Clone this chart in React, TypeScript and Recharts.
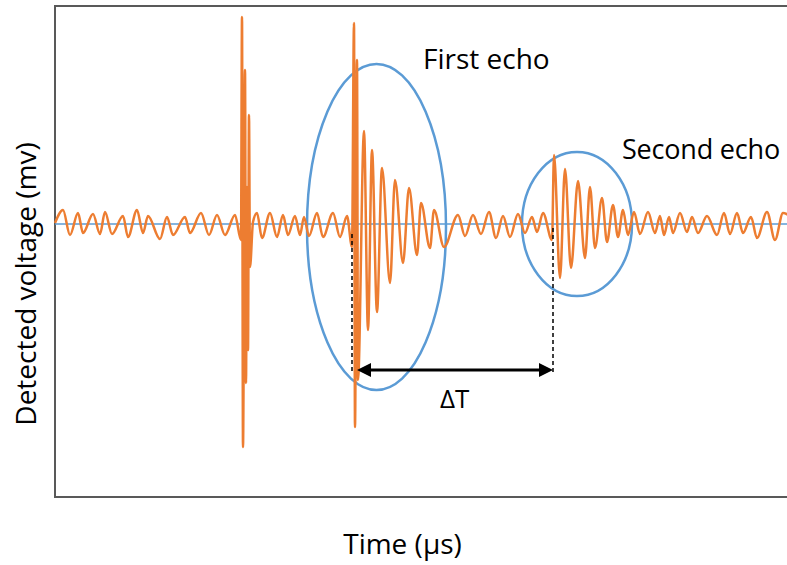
import { LineChart, Line, XAxis, YAxis, ReferenceLine, ReferenceArea } from 'recharts';

// Time (µs) and detected voltage (mV), read as peaks/troughs off the trace
const timeUs = [
  // background ringing before the pulse
  0.0, 0.8, 1.5, 2.3, 2.8, 3.8, 4.5, 5.0, 5.7, 6.8, 7.3, 8.2, 8.8, 9.3, 10.5, 11.2, 11.8, 13.0,
  13.5, 14.6, 15.4, 16.2, 17.0, 18.0, 18.6,
  // excitation pulse
  18.7, 18.8, 19.0, 19.1, 19.2, 19.3, 19.4, 19.5, 19.8,
  // ringing
  20.2, 20.7, 21.5, 22.2, 22.8, 23.3, 24.0, 24.5, 24.9, 25.4, 26.2, 26.8, 27.8, 28.5, 29.2, 29.7,
  // first echo
  29.9, 30.0, 30.2, 30.3, 30.9, 31.3, 31.7, 32.2, 32.7, 33.5, 34.0, 34.8, 35.4, 36.2, 36.6, 37.5,
  37.9, 38.9,
  // ringing
  40.3, 41.0, 41.8, 42.6, 43.4, 44.1, 44.8, 45.5, 46.3, 47.0, 47.7, 48.2, 48.8, 49.7,
  // second echo
  49.9, 50.5, 51.0, 51.6, 52.3, 53.0, 53.5, 54.0, 54.7, 55.2, 55.8, 56.3, 56.8, 57.3,
  // ringing
  57.9, 58.5, 59.3, 60.0, 60.5, 60.9, 61.4, 61.8, 62.5, 63.2, 63.7, 64.3, 65.2, 66.2, 66.9, 67.5,
  68.2, 68.8, 69.6, 70.2, 71.2, 72.0, 72.8, 73.5,
];

const voltageMv = [
  0.1, 1.4, -1.1, 1.1, -0.9, 1.0, -1.0, 1.2, -1.0, 0.8, -1.3, 1.4, -0.9, 0.8, -1.5, 0.7, -1.1, 0.7,
  -0.9, 1.1, -1.1, 0.9, -1.1, 0.9, -1.6,
  20.7, -22.3, 15.4, -15.9, 3.7, -12.6, 10.9, -4.3, 0.2,
  1.1, -1.4, 1.1, -1.3, 0.9, -1.1, 0.8, -1.1, 0.7, -1.2, 1.1, -1.3, 1.1, -1.3, 0.8, -2.3,
  20.1, -20.3, 16.4, -15.6, 9.3, -10.6, 7.4, -8.8, 5.6, -5.9, 4.4, -3.9, 3.6, -3.1, 2.1, -2.4,
  1.4, -2.3,
  0.9, -1.2, 0.9, -1.0, 1.2, -1.4, 0.8, -1.3, 1.0, -0.9, 0.7, -0.8, 1.1, -1.6,
  6.9, -5.4, 5.5, -4.4, 4.3, -3.4, 3.7, -2.4, 2.6, -1.8, 1.9, -1.3, 1.4, -1.1,
  1.2, -1.0, 1.2, -0.9, 0.8, -1.1, 0.7, -0.9, 1.1, -0.8, 0.7, -0.9, 0.8, -1.1, 1.1, -1.0,
  1.1, -0.9, 0.7, -1.4, 1.2, -1.6, 1.1, 0.8,
];

// echo circles: [t1, t2, v1, v2]
const firstEchoBox = [25.2, 39.1, -16.6, 16.0];
const secondEchoBox = [46.7, 57.7, -7.2, 7.2];
// dashed markers at the echo onsets: [t, vTop, vBottom]
const onsetMarkers = [
  [29.7, -1.0, -14.8],
  [49.8, -0.4, -14.8],
];
const deltaT = { from: 30.2, to: 49.8, v: -14.6 };

const xDomain: [number, number] = [0, 80];
const yDomain: [number, number] = [-27.3, 21.8];

const signal = timeUs.map((t, i) => ({ t, v: voltageMv[i] }));

const EllipseShape = (props: any) => {
  const { x, y, width, height } = props;
  return (
    <ellipse
      cx={x + width / 2}
      cy={y + height / 2}
      rx={Math.abs(width) / 2}
      ry={Math.abs(height) / 2}
      fill="none"
      stroke="#5B9BD5"
      strokeWidth={2.5}
    />
  );
};

const ArrowShape = (props: any) => {
  const { x1, y1, x2, y2 } = props;
  const head = 14;
  const half = 7;
  return (
    <g>
      <line x1={x1 + head - 2} y1={y1} x2={x2 - head + 2} y2={y2} stroke="#000" strokeWidth={3} />
      <polygon points={`${x1},${y1} ${x1 + head},${y1 - half} ${x1 + head},${y1 + half}`} fill="#000" />
      <polygon points={`${x2},${y2} ${x2 - head},${y2 - half} ${x2 - head},${y2 + half}`} fill="#000" />
    </g>
  );
};

const textStyle: React.CSSProperties = {
  position: 'absolute',
  fontSize: 28,
  lineHeight: 1,
  color: '#000',
  whiteSpace: 'nowrap',
};

export default function App() {
  return (
    <div
      style={{
        position: 'absolute',
        left: 0,
        top: 0,
        width: 787,
        height: 565,
        overflow: 'hidden',
        background: '#fff',
        fontFamily: '"Open Sans", sans-serif',
      }}
    >
      <LineChart width={860} height={565} data={signal} margin={{ top: 6, right: 5, bottom: 68, left: 55 }}>
        <XAxis type="number" dataKey="t" domain={xDomain} hide />
        <YAxis type="number" domain={yDomain} hide allowDataOverflow />
        <ReferenceArea
          x1={xDomain[0]}
          x2={xDomain[1]}
          y1={yDomain[0]}
          y2={yDomain[1]}
          fill="none"
          stroke="#595959"
          strokeWidth={2}
        />
        <ReferenceLine y={0} stroke="#5B9BD5" strokeWidth={1.5} />
        <ReferenceArea
          x1={firstEchoBox[0]}
          x2={firstEchoBox[1]}
          y1={firstEchoBox[2]}
          y2={firstEchoBox[3]}
          shape={EllipseShape}
        />
        <ReferenceArea
          x1={secondEchoBox[0]}
          x2={secondEchoBox[1]}
          y1={secondEchoBox[2]}
          y2={secondEchoBox[3]}
          shape={EllipseShape}
        />
        <Line
          type="monotone"
          dataKey="v"
          stroke="#ED7D31"
          strokeWidth={2.5}
          dot={false}
          isAnimationActive={false}
        />
        {onsetMarkers.map(([t, top, bottom]) => (
          <ReferenceLine
            key={t}
            segment={[
              { x: t, y: top },
              { x: t, y: bottom },
            ]}
            stroke="#000"
            strokeWidth={1.5}
            strokeDasharray="4 3"
          />
        ))}
        <ReferenceLine
          segment={[
            { x: deltaT.from, y: deltaT.v },
            { x: deltaT.to, y: deltaT.v },
          ]}
          shape={ArrowShape}
        />
      </LineChart>
      <div style={{ ...textStyle, left: 423, top: 44 }}>First echo</div>
      <div style={{ ...textStyle, left: 622, top: 135, fontSize: 27, letterSpacing: -0.2 }}>Second echo</div>
      <div style={{ ...textStyle, left: 440, top: 385, fontSize: 26 }}>ΔT</div>
      <div style={{ ...textStyle, left: 402.5, top: 529, transform: 'translateX(-50%)' }}>Time (µs)</div>
      <div
        style={{
          ...textStyle,
          left: 25,
          top: 283.5,
          transform: 'translate(-50%, -50%) rotate(-90deg)',
        }}
      >
        Detected voltage (mv)
      </div>
    </div>
  );
}
